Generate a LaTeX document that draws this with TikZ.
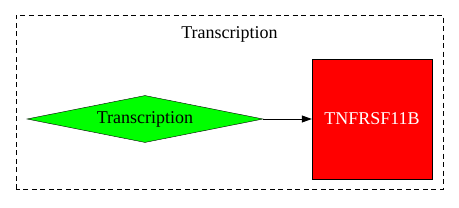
\documentclass[tikz,border=0pt]{standalone}
\usepackage{fontspec}
\setmainfont{Liberation Serif}
\usetikzlibrary{arrows.meta, positioning, shapes.geometric}

\begin{document}
\begin{tikzpicture}[
    x=1pt, y=1pt,
    cluster/.style={draw, dash pattern=on 5pt off 3.5pt, line width=0.8pt},
    process/.style={diamond, draw, fill=green, aspect=5, inner sep=0pt,
                minimum width=236pt, minimum height=47pt,
                font=\fontsize{18}{20}\selectfont},
    gene/.style={rectangle, draw, fill=red, minimum size=120pt, inner sep=0pt,
                font=\fontsize{18}{20}\selectfont\color{white}},
    link/.style={-{Triangle[length=10pt, width=7pt]}, line width=0.8pt},
  ]
    \useasboundingbox (0,0) rectangle (459,207);
    \draw[cluster] (16,18) rectangle (443,192);
    \node[font=\fontsize{18}{20}\selectfont] (title) at (229.5,173) {Transcription};

    \node[process] (tr) at (145,88) {Transcription};
    \node[gene] (tnf) at (372,88) {TNFRSF11B};

    \draw[link] (tr.east) -- (tnf.west);
  \end{tikzpicture}
\end{document}
